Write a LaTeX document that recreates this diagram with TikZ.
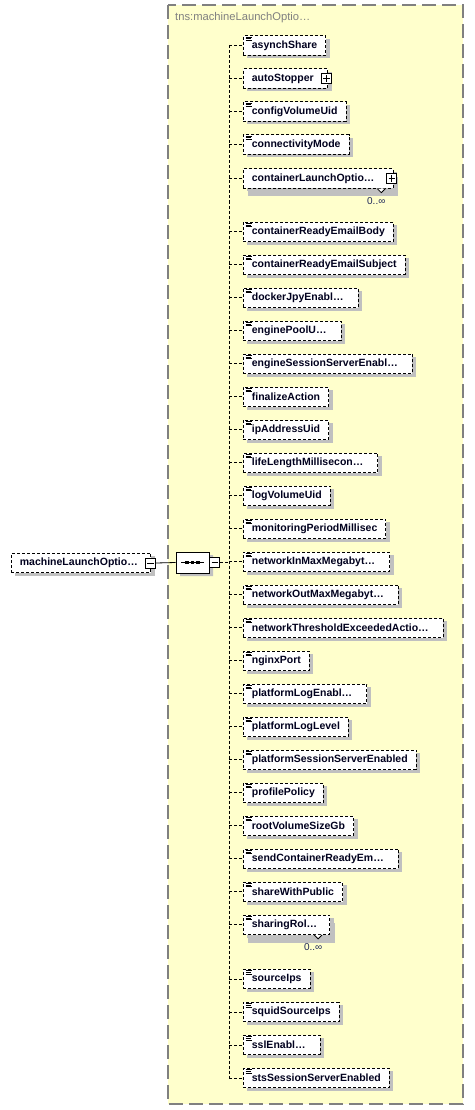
\documentclass[tikz,border=0pt]{standalone}
\usepackage{fontspec}
\setmainfont{Liberation Sans}
\usetikzlibrary{shadows,shapes.misc}
\definecolor{bgyellow}{RGB}{255,255,204}
\definecolor{framegray}{RGB}{128,128,128}
\definecolor{shadowgray}{RGB}{192,192,192}
\definecolor{txtnavy}{RGB}{0,0,30}
\definecolor{multcol}{RGB}{30,40,90}
\newcommand{\trunc}{…\hspace{6pt}\null}
\newcommand{\gap}[1]{\hspace{#1}\null}
\tikzset{
  elem/.style={draw, dash pattern=on 3pt off 2pt, line width=0.8pt, fill=white,
    minimum height=19.5pt, inner xsep=8.5pt, inner ysep=0pt, anchor=west,
    text=txtnavy, font=\fontsize{10.5}{12}\selectfont\bfseries,
    drop shadow={shadow xshift=4pt, shadow yshift=-3pt, fill=shadowgray, opacity=1}},
  multielem/.style={elem,
    drop shadow={shadow xshift=5pt, shadow yshift=-8pt, fill=shadowgray, opacity=1}},
  conn/.style={draw, dash pattern=on 3pt off 2pt, line width=0.8pt},
  solidconn/.style={draw, line width=0.8pt},
  iconbox/.style={draw, solid, line width=0.8pt, fill=white, minimum width=10pt,
    minimum height=10pt, inner sep=0pt},
  seqbox/.style={chamfered rectangle, chamfered rectangle xsep=4.5pt, draw, line width=0.8pt,
    fill=white, minimum width=33pt, minimum height=21pt, inner sep=0pt,
    drop shadow={shadow xshift=4pt, shadow yshift=-3pt, fill=shadowgray, opacity=1}},
  mult/.style={text=multcol, font=\fontsize{10}{12}\selectfont, inner sep=0pt},
  docline/.style={line width=0.7pt, solid}
}
\newcommand{\docicon}[1]{%
  \draw[docline] ([xshift=2.5pt,yshift=-1.6pt]#1.north west) -- ++(6.5pt,0);
  \draw[docline] ([xshift=2.5pt,yshift=-3.3pt]#1.north west) -- ++(5.5pt,0);
  \draw[docline] ([xshift=2.5pt,yshift=-5.0pt]#1.north west) -- ++(6.5pt,0);}
\newcommand{\plusicon}[2]{%
  \node[iconbox] (#2) at ([xshift=-1.5pt]#1.east) {};
  \draw[line width=0.8pt] (#2.center) ++(-3.2pt,0) -- ++(6.4pt,0);
  \draw[line width=0.8pt] (#2.center) ++(0,-3.2pt) -- ++(0,6.4pt);}
\newcommand{\minusicon}[1]{%
  \draw[line width=0.8pt] (#1.center) ++(-3.2pt,0) -- ++(6.4pt,0);}
\newcommand{\multnotch}[1]{%
  \draw[line width=0.8pt, fill=white] ([xshift=-16pt]#1.south east) -- ++(4pt,-4pt) -- ++(4pt,4pt);}
\begin{document}
\begin{tikzpicture}[x=1pt,y=-1pt]
\useasboundingbox (0,0) rectangle (474,1110);
% frame
\draw[fill=bgyellow, draw=framegray, line width=1.2pt, dash pattern=on 14pt off 6pt]
  (168,5) rectangle (463,1104);
\node[anchor=base west, text=framegray, font=\fontsize{11.2}{13}\selectfont, inner sep=0pt]
  (title) at (175,21) {tns:machineLaunchOptio…};

% left root element
\node[elem] (root) at (11,563) {machineLaunchOptio…\gap{4.5pt}};
\node[iconbox] (rootminus) at ([xshift=-0.5pt]root.east) {};
\minusicon{rootminus}

% sequence compositor
\node[seqbox] (seq) at (192.5,562.5) {};
\draw[line width=1pt] ([xshift=-11.5pt]seq.center) -- ([xshift=11.5pt]seq.center);
\foreach \dx in {-5.5,0,5.5}
  \fill ([xshift=\dx pt]seq.center) ++(-1.8pt,-1.8pt) rectangle ++(3.6pt,3.6pt);
\node[iconbox, anchor=west] (seqminus) at (seq.east) {};
\minusicon{seqminus}
\draw[solidconn] (rootminus.east) -- (seq.west);
\coordinate (vseq) at (229,562.5);
\draw[conn] (seqminus.east) -- (vseq);

% children with documentation icon
\foreach \i/\t/\y in {
  1/asynchShare/45.5,
  3/configVolumeUid/111.5,
  4/connectivityMode/144.5,
  6/containerReadyEmailBody/231.75,
  7/containerReadyEmailSubject/264.75,
  8/dockerJpyEnabl\trunc/297.75,
  9/enginePoolU\trunc/330.75,
  10/engineSessionServerEnabl\trunc/363.75,
  11/finalizeAction/396.75,
  12/ipAddressUid/429.75,
  13/lifeLengthMillisecon\trunc/462.75,
  14/logVolumeUid/495.75,
  15/monitoringPeriodMillisec/528.75,
  16/networkInMaxMegabyt\trunc/561.75,
  17/networkOutMaxMegabyt\trunc/594.75,
  18/networkThresholdExceededActio\trunc/627.75,
  19/nginxPort/660.75,
  20/platformLogEnabl\trunc/693.75,
  21/platformLogLevel/726.75,
  22/platformSessionServerEnabled/759.75,
  23/profilePolicy/792.75,
  24/rootVolumeSizeGb/825.75,
  25/sendContainerReadyEm\trunc/858.75,
  26/shareWithPublic/891.75,
  28/sourceIps/979,
  29/squidSourceIps/1012,
  30/sslEnabl\trunc/1045,
  31/stsSessionServerEnabled/1078}{
  \node[elem] (e\i) at (243,\y) {\t};
  \docicon{e\i}
  \coordinate (v\i) at (229,\y);
  \draw[conn] (v\i) -- (e\i.west);
}

% autoStopper (complex, expandable)
\node[elem] (e2) at (243,78.5) {autoStopper\gap{5.5pt}};
\plusicon{e2}{e2plus}
\coordinate (v2) at (229,78.5);
\draw[conn] (v2) -- (e2.west);

% containerLaunchOptio... (complex, 0..inf)
\node[multielem] (e5) at (243,178.5) {containerLaunchOptio…\gap{10pt}};
\plusicon{e5}{e5plus}
\multnotch{e5}
\node[mult] (m5) at ([xshift=-17pt,yshift=-12pt]e5.south east) {0..∞};
\coordinate (v5) at (229,178.5);
\draw[conn] (v5) -- (e5.west);

% sharingRol... (0..inf)
\node[multielem] (e27) at (243,924.75) {sharingRol…\gap{4pt}};
\docicon{e27}
\multnotch{e27}
\node[mult] (m27) at ([xshift=-17pt,yshift=-12pt]e27.south east) {0..∞};
\coordinate (v27) at (229,924.75);
\draw[conn] (v27) -- (e27.west);

% vertical spine
\draw[conn] (v1) -- (v31);
\end{tikzpicture}
\end{document}
